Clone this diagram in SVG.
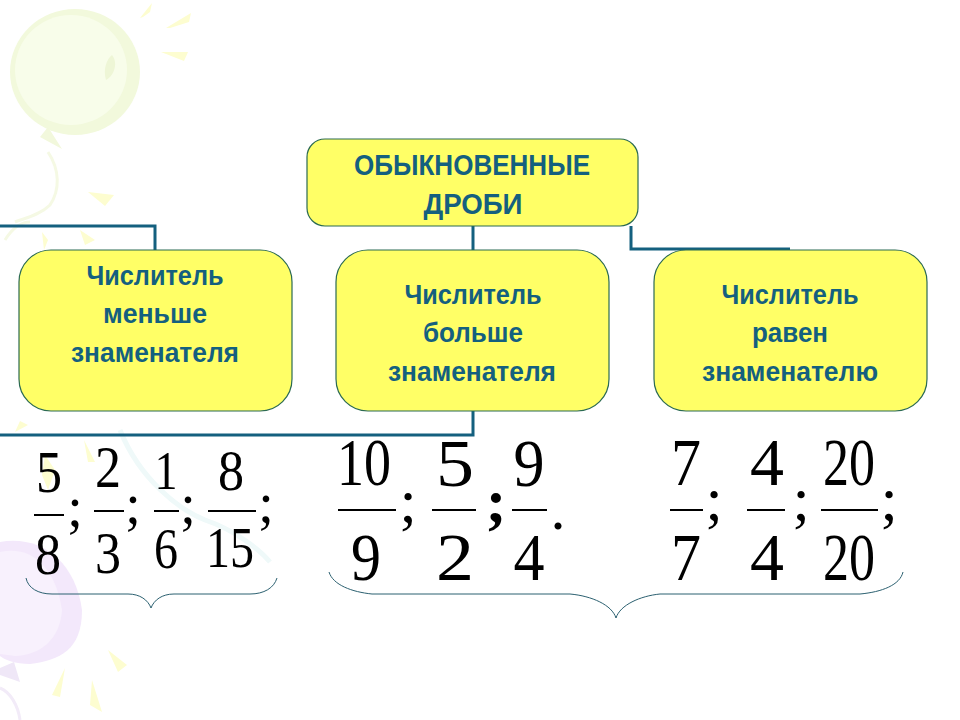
<svg xmlns="http://www.w3.org/2000/svg" width="960" height="720" viewBox="0 0 960 720">
<style>
.box{fill:#ffff66;stroke:#2b6a52;stroke-width:1.2}
.lbl{font-family:"Liberation Sans",Arial,sans-serif;font-weight:bold;fill:#14607f;text-anchor:middle}
.num{font-family:"Liberation Serif","Times New Roman",serif;fill:#000;text-anchor:middle}
.bar{stroke:#000;stroke-width:2;fill:none}
.conn{stroke:#14607f;stroke-width:3;fill:none}
.brace{stroke:#2b6070;stroke-width:1;fill:none}
.ray{fill:#fdfdd0}
</style>
<rect width="960" height="720" fill="#fff"/>
<g id="background">
<ellipse cx="75" cy="72" rx="65" ry="63" fill="#f2f9dc"/>
<ellipse cx="71" cy="70" rx="56" ry="55" fill="#f8fdea"/>
<path d="M112 55C118 62 115 75 106 80C103 70 106 60 112 55Z" fill="#eef6d6"/>
<path d="M48 127L62 149L40 137Z" fill="#f2f8dc"/>
<path d="M48 152C60 170 60 190 50 205C40 215 25 218 15 222" fill="none" stroke="#f5f9e4" stroke-width="3"/>
<path d="M5 240C15 224 25 222 30 222" fill="none" stroke="#f5f9e4" stroke-width="3"/>
<path class="ray" d="M140 18L152 3L150 12L143 17Z"/>
<path class="ray" d="M166 28L191 13L189 22L170 28Z"/>
<path class="ray" d="M161 52L188 52L184 61Z"/>
<path class="ray" d="M88 192L114 195L105 206Z"/>
<path class="ray" d="M42 232L48 240L44 250Z"/>
<path class="ray" d="M80 230L95 240L85 245Z"/>
<path class="ray" d="M20 421L28 425L15 432Z"/>
<path class="ray" d="M84 440L95 462L88 462Z"/>
<path class="ray" d="M45 455L55 470L48 490L42 475Z"/>
<path d="M120 430C140 480 180 510 205 520C235 530 260 550 270 562" fill="none" stroke="#eff9f9" stroke-width="5"/>
<path d="M0 542C40 535 75 560 82 610C82 650 60 660 30 664C15 664 5 660 0 656Z" fill="#f3e8fb"/>
<path d="M0 552C30 545 55 565 62 610C60 640 40 655 15 656L0 654Z" fill="#f8f1fd"/>
<path d="M0 668L14 662L20 682L0 675Z" fill="#efe7f7"/>
<path d="M0 688C10 692 18 705 20 720" fill="none" stroke="#f2ebf8" stroke-width="3"/>
<path class="ray" d="M108 650L127 665L118 672Z"/>
<path class="ray" d="M65 668L52 695L60 697Z"/>
<path class="ray" d="M92 680L90 705L102 712Z"/>
</g>
<g id="connectors">
<path class="conn" d="M0 226H155V250"/>
<path class="conn" d="M473 226V250"/>
<path class="conn" d="M631 226V249H790"/>
<path class="conn" d="M473 411V435H0"/>
</g>
<g id="node-root">
<rect class="box" x="307" y="139" width="331" height="87" rx="18"/>
<text class="lbl" x="472" y="175" font-size="29" textLength="236" lengthAdjust="spacingAndGlyphs">ОБЫКНОВЕННЫЕ</text>
<text class="lbl" x="473" y="214" font-size="29" textLength="99" lengthAdjust="spacingAndGlyphs">ДРОБИ</text>
</g>
<g id="node-less">
<rect class="box" x="19" y="250" width="273" height="161" rx="32"/>
<text class="lbl" x="155" y="285" font-size="27" textLength="137" lengthAdjust="spacingAndGlyphs">Числитель</text>
<text class="lbl" x="155" y="323" font-size="27" textLength="104" lengthAdjust="spacingAndGlyphs">меньше</text>
<text class="lbl" x="155" y="362" font-size="27" textLength="168" lengthAdjust="spacingAndGlyphs">знаменателя</text>
</g>
<g id="node-more">
<rect class="box" x="336" y="250" width="273" height="161" rx="32"/>
<text class="lbl" x="473" y="304" font-size="27" textLength="137" lengthAdjust="spacingAndGlyphs">Числитель</text>
<text class="lbl" x="473" y="342" font-size="27" textLength="100" lengthAdjust="spacingAndGlyphs">больше</text>
<text class="lbl" x="472" y="381" font-size="27" textLength="168" lengthAdjust="spacingAndGlyphs">знаменателя</text>
</g>
<g id="node-equal">
<rect class="box" x="654" y="250" width="273" height="161" rx="32"/>
<text class="lbl" x="790" y="304" font-size="27" textLength="137" lengthAdjust="spacingAndGlyphs">Числитель</text>
<text class="lbl" x="790" y="342" font-size="27" textLength="76" lengthAdjust="spacingAndGlyphs">равен</text>
<text class="lbl" x="790" y="381" font-size="27" textLength="176" lengthAdjust="spacingAndGlyphs">знаменателю</text>
</g>
<g id="fractions-less">
<text class="num" x="49" y="492" font-size="59" textLength="26" lengthAdjust="spacingAndGlyphs">5</text>
<path class="bar" d="M34 515H64"/>
<text class="num" x="48" y="574" font-size="59" textLength="26" lengthAdjust="spacingAndGlyphs">8</text>
<text class="num" x="75" y="526" font-size="56">;</text>
<text class="num" x="108" y="487" font-size="59" textLength="26" lengthAdjust="spacingAndGlyphs">2</text>
<path class="bar" d="M94 511H124"/>
<text class="num" x="108" y="573" font-size="59" textLength="26" lengthAdjust="spacingAndGlyphs">3</text>
<text class="num" x="133" y="523" font-size="56">;</text>
<text class="num" x="166" y="489" font-size="54" textLength="23" lengthAdjust="spacingAndGlyphs">1</text>
<path class="bar" d="M154 511H179"/>
<text class="num" x="166" y="568" font-size="56" textLength="24" lengthAdjust="spacingAndGlyphs">6</text>
<text class="num" x="188" y="523" font-size="56">;</text>
<text class="num" x="231" y="490" font-size="56" textLength="26" lengthAdjust="spacingAndGlyphs">8</text>
<path class="bar" d="M208 511H256"/>
<text class="num" x="230" y="567" font-size="56" textLength="48" lengthAdjust="spacingAndGlyphs">15</text>
<text class="num" x="266" y="522" font-size="56">;</text>
</g>
<g id="brace-less">
<path class="brace" d="M26 578C28 588 38 594 52 594H128C140 594 148 600 151 608C154 600 162 594 174 594H250C264 594 274 588 277 578"/>
</g>
<g id="fractions-more">
<text class="num" font-size="67" transform="translate(364 485) scale(.806 1)">10</text>
<path class="bar" d="M338 510H396"/>
<text class="num" x="366" y="580" font-size="67" textLength="30" lengthAdjust="spacingAndGlyphs">9</text>
<text class="num" x="408" y="522" font-size="62">;</text>
<text class="num" x="455" y="486" font-size="67" textLength="38" lengthAdjust="spacingAndGlyphs">5</text>
<path class="bar" d="M432 510H476" stroke-width="2.5"/>
<text class="num" x="455" y="580" font-size="67" textLength="38" lengthAdjust="spacingAndGlyphs">2</text>
<text class="num" x="496" y="522" font-size="62" font-weight="bold">;</text>
<text class="num" x="529" y="486" font-size="67" textLength="31" lengthAdjust="spacingAndGlyphs">9</text>
<path class="bar" d="M512 510H547"/>
<text class="num" x="529" y="580" font-size="67" textLength="31" lengthAdjust="spacingAndGlyphs">4</text>
<text class="num" x="558" y="529" font-size="60">.</text>
</g>
<g id="fractions-equal">
<text class="num" x="686" y="485" font-size="67" textLength="30" lengthAdjust="spacingAndGlyphs">7</text>
<path class="bar" d="M670 510H703"/>
<text class="num" x="686" y="580" font-size="67" textLength="30" lengthAdjust="spacingAndGlyphs">7</text>
<text class="num" x="714" y="520" font-size="62">;</text>
<text class="num" x="767" y="485" font-size="67" textLength="34" lengthAdjust="spacingAndGlyphs">4</text>
<path class="bar" d="M747 510H785" stroke-width="2.5"/>
<text class="num" x="767" y="580" font-size="67" textLength="34" lengthAdjust="spacingAndGlyphs">4</text>
<text class="num" x="801" y="520" font-size="62">;</text>
<text class="num" font-size="67" transform="translate(849 485) scale(.776 1)">20</text>
<path class="bar" d="M821 510H878"/>
<text class="num" font-size="67" transform="translate(849 580) scale(.776 1)">20</text>
<text class="num" x="889" y="520" font-size="62">;</text>
</g>
<g id="brace-more">
<path class="brace" d="M329 572C333 585 352 592 372 594H570C592 596 612 605 616 618C620 605 640 596 660 594H860C882 592 900 585 903 572"/>
</g>
</svg>
